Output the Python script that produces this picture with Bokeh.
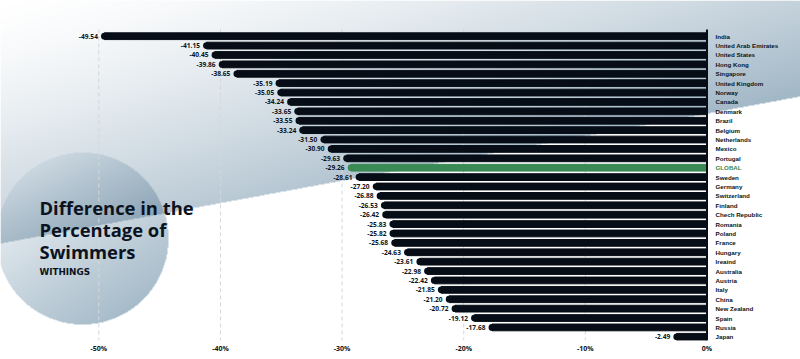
import numpy as np
from bokeh.plotting import figure
from bokeh.models import Range1d, FixedTicker, PrintfTickFormatter, Label, ColumnDataSource
from bokeh.core.properties import value
from bokeh.embed import file_html
from bokeh.resources import INLINE

# ---------------- data ----------------
countries = ["India", "United Arab Emirates", "United States", "Hong Kong", "Singapore",
             "United Kingdom", "Norway", "Canada", "Denmark", "Brazil", "Belgium",
             "Netherlands", "Mexico", "Portugal", "GLOBAL", "Sweden", "Germany",
             "Switzerland", "Finland", "Chech Republic", "Romania", "Poland", "France",
             "Hungary", "Ireaind", "Australia", "Austria", "Italy", "China",
             "New Zealand", "Spain", "Russia", "Japan"]
values = [-49.54, -41.15, -40.45, -39.86, -38.65, -35.19, -35.05, -34.24, -33.65,
          -33.55, -33.24, -31.50, -30.90, -29.63, -29.26, -28.61, -27.20, -26.88,
          -26.53, -26.42, -25.83, -25.82, -25.68, -24.63, -23.61, -22.98, -22.42,
          -21.85, -21.20, -20.72, -19.12, -17.68, -2.49]
highlight = "GLOBAL"
x_ticks = [-50, -40, -30, -20, -10, 0]
title_lines = ["Difference in the", "Percentage of", "Swimmers"]
subtitle = "WITHINGS"

# ---------------- layout helpers (page pixels -> data) ----------------
X0PX, XSCALE = 706.5, 12.164      # px of x=0, px per unit
Y0PX, YSCALE = 35.7, 9.394        # px of first row, px per row
n = len(countries)
OFF = 0
FW, FH = 800, 340


def X(px):
    return (px - X0PX) / XSCALE


def Y(py):
    return (n - 1) - (py - Y0PX) / YSCALE


ypos = [n - 1 - i for i in range(n)]
DARK = "#060d16"
GREEN = "#3a8a55"
colors = [GREEN if c == highlight else DARK for c in countries]
txt_colors = [GREEN if c == highlight else "#0b1320" for c in countries]
labels = ["%.2f" % v for v in values]
zeros = [0] * n

src = ColumnDataSource(dict(y=ypos, v=values, z=zeros, c=colors, tc=txt_colors,
                            lab=labels, name=countries))

p = figure(frame_width=FW, frame_height=FH, output_backend="svg", toolbar_location=None,
           x_range=Range1d(X(OFF), X(OFF + FW)), y_range=Range1d(Y(OFF + FH), Y(OFF)),
           y_axis_location=None, min_border_left=0, min_border_right=0,
           min_border_top=0, min_border_bottom=0)
p.outline_line_color = None
p.background_fill_color = "white"
p.border_fill_color = "white"
p.xgrid.grid_line_color = None
p.ygrid.grid_line_color = None

# ---------------- background (decoration) ----------------
jj, rr = np.meshgrid(np.arange(FW), np.arange(FH))
pxg = OFF + jj + 0.5
pyg = OFF + FH - (rr + 0.5)
rgb = np.ones((FH, FW, 3))
above = pyg < 243 - (243 - 96) / 800 * pxg
t = np.clip(0.0009 * pxg + 0.0031 * pyg, 0, 1) ** 1.4
C = np.array([163, 184, 199]) / 255.0
for k in range(3):
    rgb[..., k] = np.where(above, 1 - t * (1 - C[k]), 1.0)
cx, cy, r = 82, 238, 86
inside = (pxg - cx) ** 2 + (pyg - cy) ** 2 <= r ** 2
tc = np.clip((((pxg - cx) * 0.55 + (pyg - cy) * 0.83) / r) * 0.5 + 0.5, 0, 1)
L = np.array([240, 244, 247]) / 255.0
D = np.array([166, 187, 201]) / 255.0
for k in range(3):
    circ = L[k] + (D[k] - L[k]) * tc
    rgb[..., k] = np.where(inside, rgb[..., k] * circ, rgb[..., k])
img = np.empty((FH, FW), dtype=np.uint32)
view = img.view(dtype=np.uint8).reshape((FH, FW, 4))
view[..., 0:3] = (rgb * 255).round().astype(np.uint8)
view[..., 3] = 255
p.image_rgba(image=[img], x=X(OFF), y=Y(OFF + FH), dw=FW / XSCALE, dh=FH / YSCALE)

# grid lines
grid_top = (n - 1) + 0.72
grid_bot = Y(OFF + FH)
gt = x_ticks[:-1]
p.segment(x0=gt, y0=[grid_top] * len(gt), x1=gt, y1=[grid_bot] * len(gt),
          line_color="#d3d7db", line_width=1, line_dash="4 3")

# bars
p.hbar(y="y", left="v", right="z", height=0.72, color="c", source=src)
p.scatter(x="v", y="y", size=0.72 * YSCALE, color="c", line_color=None, source=src)

# zero line
p.segment(x0=[0], y0=[grid_top], x1=[0], y1=[grid_bot], line_color="#060d16", line_width=2)

# value labels
p.text(x="v", y="y", text="lab", x_offset=-6.5, text_align="right",
       text_baseline="middle", text_font=value("Open Sans"), text_font_style="bold",
       text_font_size="6.6px", text_color="#0b1320", source=src)
# country labels
p.text(x="z", y="y", text="name", x_offset=8.5, text_align="left",
       text_baseline="middle", text_font=value("Liberation Sans"), text_font_style="bold",
       text_font_size="6.2px", text_color="tc", source=src)

# title
for i, line in enumerate(title_lines):
    p.add_layout(Label(x=X(39), y=Y(207 + 22 * i), text=line, text_font="Open Sans",
                       text_font_style="bold", text_font_size="18.4px",
                       text_color="#0b1320", text_baseline="alphabetic"))
p.add_layout(Label(x=X(39), y=Y(271), text=subtitle, text_font="DejaVu Sans",
                   text_font_style="bold", text_font_size="8.8px",
                   text_color="#0b1320", text_baseline="alphabetic"))

# axis
ax = p.xaxis[0]
ax.ticker = FixedTicker(ticks=x_ticks)
ax.formatter = PrintfTickFormatter(format="%d%%")
ax.axis_line_color = None
ax.major_tick_line_color = None
ax.minor_tick_line_color = None
ax.major_tick_out = 0
ax.major_tick_in = 0
ax.major_label_standoff = 3
ax.major_label_text_font = "Open Sans"
ax.major_label_text_font_style = "bold"
ax.major_label_text_font_size = "7px"
ax.major_label_text_color = "#0b1320"

open("out.html", "w").write(file_html(p, INLINE))
